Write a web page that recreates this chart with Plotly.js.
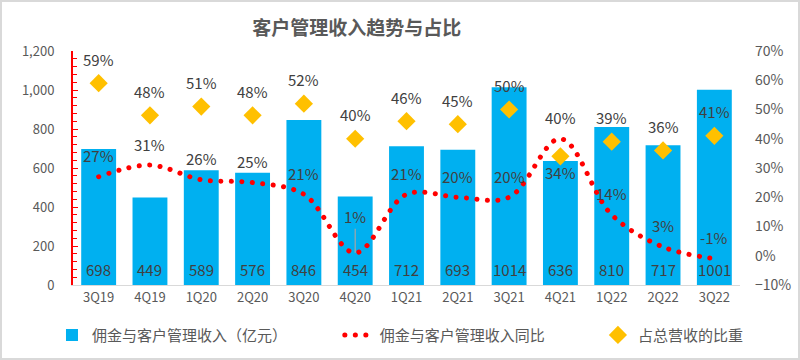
<!DOCTYPE html>
<html><head><meta charset="utf-8">
<script src="https://cdn.plot.ly/plotly-3.0.1.min.js"></script>
<style>body{margin:0;background:#fff}#wrap{position:relative;width:800px;height:360px}#frame{position:absolute;left:0;top:0;width:800px;height:360px;box-sizing:border-box;border:2px solid #d9d9d9;pointer-events:none}</style>
</head><body><div id="wrap"><div id="chart" style="width:800px;height:360px"></div><div id="frame"></div></div>
<script>
const quarters = ['3Q19','4Q19','1Q20','2Q20','3Q20','4Q20','1Q21','2Q21','3Q21','4Q21','1Q22','2Q22','3Q22'];
const revenue = [698,449,589,576,846,454,712,693,1014,636,810,717,1001];
const yoy = [0.27,0.31,0.26,0.25,0.21,0.01,0.21,0.20,0.20,0.40,0.14,0.03,-0.01];
const share = [0.59,0.48,0.51,0.48,0.52,0.40,0.46,0.45,0.50,0.34,0.39,0.36,0.41];
const seriesNames = ['佣金与客户管理收入（亿元）','佣金与客户管理收入同比','占总营收的比重'];
const titleText = '客户管理收入趋势与占比';

const pct = v => Math.round(v*100) + '%';
const F = '"Noto Sans CJK SC", "Noto Sans", sans-serif';
const txt = '#404040';
const lblFont = {family:F, size:15, color:txt};

const traces = [
  {type:'bar', x:quarters, y:revenue, name:seriesNames[0], marker:{color:'#00B0F0'},
   width:0.68, hoverinfo:'skip', legend:'legend'},
  {type:'scatter', mode:'lines', x:quarters, y:yoy, yaxis:'y2', name:seriesNames[1],
   line:{color:'#FF0000', width:5, dash:'5px,6px', shape:'spline', smoothing:1}, legend:'legend2'},
  {type:'scatter', mode:'markers', x:quarters, y:share, yaxis:'y2', name:seriesNames[2],
   marker:{symbol:'diamond', size:14, color:'#FFC000'}, legend:'legend3'}
];

const annotations = [];
quarters.forEach((q,i)=>{
  annotations.push({x:q, y:0, xref:'x', yref:'y', text:String(revenue[i]), showarrow:false,
    yanchor:'middle', yshift:16, font:lblFont});
  if (i === 5) {
    annotations.push({x:q, y:yoy[i], xref:'x', yref:'y2', text:pct(yoy[i]), showarrow:true,
      ax:0, ay:-36, arrowhead:0, arrowwidth:1.2, arrowcolor:'#a6a6a6', standoff:0, font:lblFont});
  } else {
    annotations.push({x:q, y:yoy[i], xref:'x', yref:'y2', text:pct(yoy[i]), showarrow:false,
      yanchor:'middle', yshift:21, font:lblFont});
  }
  annotations.push({x:q, y:share[i], xref:'x', yref:'y2', text:pct(share[i]), showarrow:false,
    yanchor:'middle', yshift: i === 9 ? -16 : 24, font:lblFont});
});

const legFont = {family:F, size:15, color:'#595959'};
const legBase = {orientation:'h', xanchor:'left', yref:'container', y:0.069, yanchor:'middle', font:legFont, bgcolor:'rgba(0,0,0,0)'};

const layout = {
  width:800, height:360,
  margin:{l:73, r:60, t:51, b:75, autoexpand:false},
  paper_bgcolor:'#fff', plot_bgcolor:'rgba(0,0,0,0)',
  font:{family:F, color:'#595959', size:13},
  title:{text:'<b>'+titleText+'</b>', x:0.446, xanchor:'center', y:0.922, yanchor:'middle',
         font:{family:F, size:19, color:'#595959'}},
  showlegend:true,
  legend:Object.assign({}, legBase, {x:-0.0315}),
  legend2:Object.assign({}, legBase, {x:0.40}),
  legend3:Object.assign({}, legBase, {x:0.787}),
  xaxis:{type:'category', range:[-0.5,12.5], showline:true, linecolor:'#d9d9d9', linewidth:1, ticks:'',
         tickfont:{family:F,size:13,color:'#595959'}, showgrid:false, zeroline:false},
  yaxis:{range:[0,1200], dtick:200, tickformat:',d', showgrid:false, zeroline:false,
         showline:true, linecolor:'#FF0000', linewidth:2, ticks:'inside', ticklen:5, tickcolor:'#FF0000',
         minor:{dtick:40, ticks:'inside', ticklen:4, tickcolor:'#FF0000'},
         ticklabelstandoff:14, tickfont:{family:F,size:13,color:'#595959'}},
  yaxis2:{overlaying:'y', side:'right', range:[-0.1,0.7], dtick:0.1, tickformat:'.0%',
          showgrid:false, zeroline:false, showline:false, ticks:'',
          ticklabelstandoff:14, tickfont:{family:F,size:14,color:'#595959'}},
  annotations: annotations
};
Plotly.newPlot('chart', traces, layout, {displayModeBar:false, staticPlot:true}).then(gd=>{
  gd.querySelectorAll('path.js-line, .legendlines path').forEach(p=>{
    p.style.setProperty('stroke-dasharray','0.1px,10.4px');
    p.style.setProperty('stroke-linecap','round');
  });
});
</script></body></html>
